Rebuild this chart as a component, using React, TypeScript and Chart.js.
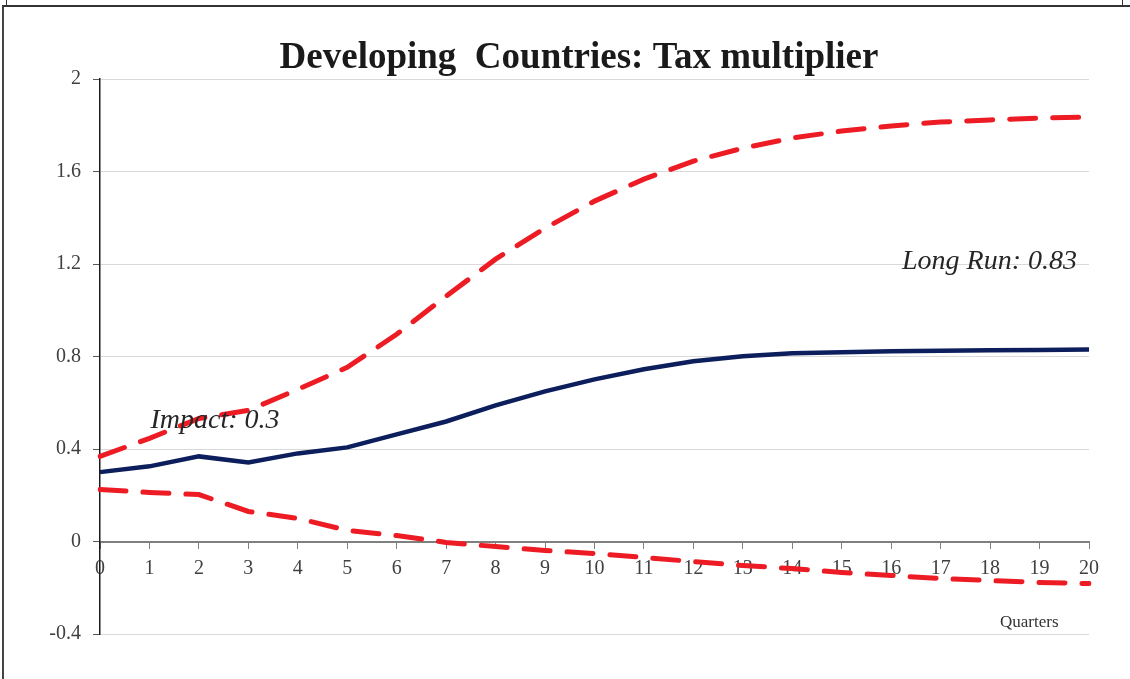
import React, { useEffect, useRef } from "react";
import { Chart, registerables } from "chart.js";

Chart.register(...registerables);

const quarters = ["0","1","2","3","4","5","6","7","8","9","10","11","12","13","14","15","16","17","18","19","20"];
const multiplier = [0.30,0.325,0.368,0.342,0.381,0.407,0.463,0.519,0.589,0.649,0.701,0.745,0.779,0.801,0.814,0.818,0.823,0.825,0.827,0.828,0.83];
const upperBand = [0.368,0.446,0.532,0.567,0.658,0.753,0.896,1.061,1.221,1.355,1.472,1.567,1.645,1.701,1.745,1.775,1.797,1.814,1.823,1.831,1.835];
const lowerBand = [0.225,0.212,0.203,0.13,0.10,0.048,0.026,-0.004,-0.022,-0.039,-0.052,-0.069,-0.087,-0.104,-0.117,-0.134,-0.147,-0.16,-0.169,-0.177,-0.182];
const yTicks = [-0.4, 0, 0.4, 0.8, 1.2, 1.6, 2];

const titleText = "Developing  Countries: Tax multiplier";
const impactText = "Impact: 0.3";
const longRunText = "Long Run: 0.83";
const xAxisText = "Quarters";

const SERIF = "'Liberation Serif', 'DejaVu Serif', serif";

const textPlugin = {
  id: "texts",
  afterDraw(chart: any) {
    const ctx = chart.ctx;
    const x = chart.scales.x;
    const y = chart.scales.y;
    ctx.save();
    // title
    ctx.fillStyle = "#1a1a1a";
    ctx.font = `bold 37px ${SERIF}`;
    ctx.textAlign = "center";
    ctx.textBaseline = "alphabetic";
    ctx.fillText(titleText, 579, 68);
    // annotations
    ctx.fillStyle = "#262626";
    ctx.font = `italic 28px ${SERIF}`;
    ctx.textAlign = "left";
    ctx.fillText(impactText, x.getPixelForValue(1) + 1, y.getPixelForValue(0.49));
    ctx.textAlign = "right";
    ctx.fillText(longRunText, x.getPixelForValue(20) - 12, y.getPixelForValue(1.18));
    // axis title
    ctx.font = `17px ${SERIF}`;
    ctx.fillStyle = "#333333";
    ctx.textAlign = "left";
    ctx.fillText(xAxisText, 1000, 627);
    ctx.restore();
  },
};

export default function App() {
  const ref = useRef<HTMLCanvasElement>(null);
  useEffect(() => {
    if (!ref.current) return;
    const chart = new Chart(ref.current, {
      type: "line",
      data: {
        labels: quarters,
        datasets: [
          {
            label: "Upper",
            data: upperBand,
            borderColor: "#ed1c24",
            borderWidth: 5,
            borderDash: [26, 17],
            borderCapStyle: "round",
            pointRadius: 0,
            tension: 0,
            fill: false,
          },
          {
            label: "Lower",
            data: lowerBand,
            borderColor: "#ed1c24",
            borderWidth: 5,
            borderDash: [26, 17],
            borderCapStyle: "round",
            pointRadius: 0,
            tension: 0,
            fill: false,
          },
          {
            label: "Tax multiplier",
            data: multiplier,
            borderColor: "#0c1f5c",
            borderWidth: 4.5,
            pointRadius: 0,
            tension: 0,
            fill: false,
          },
        ],
      },
      options: {
        animation: false,
        responsive: false,
        layout: { padding: { top: 79, right: 41, bottom: 45, left: 0 } },
        plugins: { legend: { display: false }, title: { display: false }, tooltip: { enabled: false } },
        scales: {
          x: {
            type: "category",
            position: { y: 0 } as any,
            offset: false,
            grid: {
              drawOnChartArea: false,
              drawTicks: true,
              tickLength: 6,
              color: "#7f7f7f",
            },
            border: { color: "#7f7f7f", width: 2 },
            ticks: {
              color: "#404040",
              font: { family: SERIF, size: 20 },
              padding: 9,
              maxRotation: 0,
              autoSkip: false,
            },
          },
          y: {
            min: -0.4,
            max: 2,
            afterBuildTicks(scale: any) {
              scale.ticks = yTicks.map((v) => ({ value: v }));
            },
            afterFit(scale: any) {
              scale.width = 100;
            },
            grid: {
              color: "#d9d9d9",
              lineWidth: 1,
              tickLength: 7,
              tickColor: "#595959",
            },
            border: { color: "#1a1a1a", width: 1.5 },
            ticks: {
              color: "#404040",
              font: { family: SERIF, size: 20 },
              padding: 12,
              callback: (v: any) => String(Number(Number(v).toFixed(1))),
            },
          },
        },
      },
      plugins: [textPlugin],
    });
    return () => chart.destroy();
  }, []);
  return (
    <div style={{ position: "absolute", left: 0, top: 0, width: 1130, height: 679, background: "#fff", overflow: "hidden" }}>
      <div style={{ position: "absolute", left: 6, top: 0, width: 0, height: 5, borderLeft: "1.5px solid #333" }} />
      <div style={{ position: "absolute", left: 1122, top: 0, width: 0, height: 5, borderLeft: "1.5px solid #333" }} />
      <div style={{ position: "absolute", left: 2, top: 5, width: 1140, height: 700, borderLeft: "2px solid #444", borderTop: "2px solid #333" }} />
      <canvas ref={ref} width={1130} height={679} style={{ position: "absolute", left: 0, top: 0 }} />
    </div>
  );
}
